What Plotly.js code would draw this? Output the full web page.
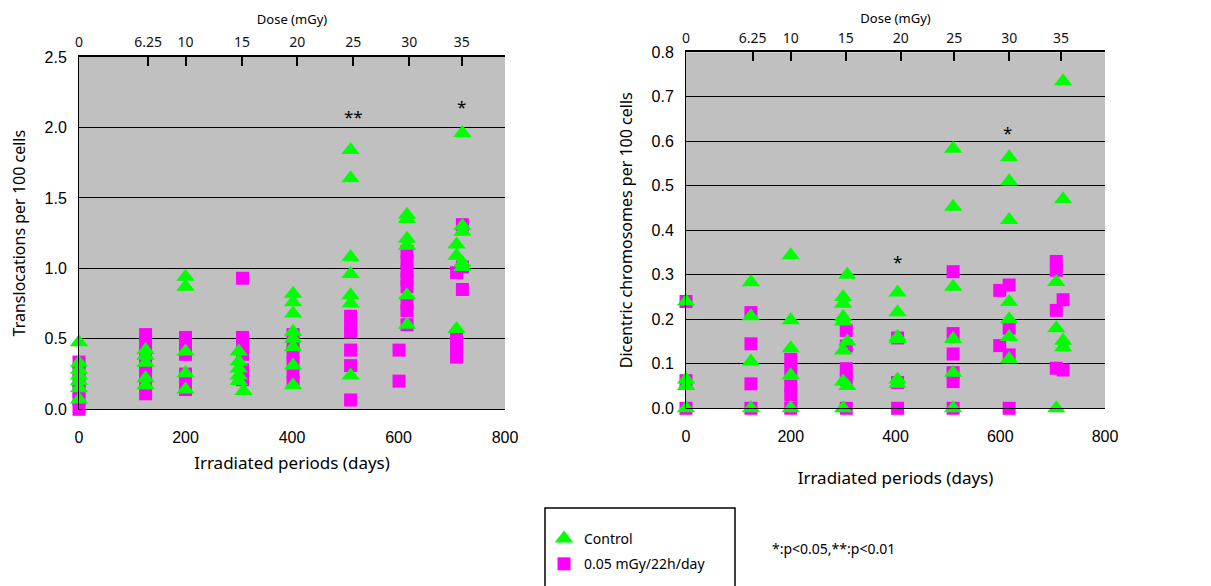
<!DOCTYPE html>
<html>
<head>
<meta charset="utf-8">
<script src="https://cdn.plot.ly/plotly-3.0.1.min.js"></script>
<style>html,body{margin:0;padding:0;background:#fff;}#chart{width:1211px;height:586px;}</style>
</head>
<body>
<div id="chart"></div>
<script>
// ---- Left panel: translocations per 100 cells ----
var transCtrlDays = [0,0,0,0,0,0,0, 125,125,125,125,125, 200,200,200,200,200, 300,300,300,300,300,309,
  402,402,402,402,402,402,402,402, 510,510,510,510,510,510,510, 616,616,616,616,616,616,
  709,709,709, 720,720,720,720,720];
var transCtrlVals = [0.475,0.33,0.28,0.24,0.2,0.15,0.07, 0.42,0.38,0.33,0.22,0.17, 0.94,0.87,0.41,0.255,0.14, 0.41,0.34,0.29,0.24,0.2,0.13,
  0.82,0.76,0.68,0.55,0.5,0.44,0.31,0.17, 1.84,1.64,1.08,0.96,0.81,0.75,0.24, 1.38,1.35,1.21,1.16,0.81,0.6,
  1.17,1.09,0.57, 1.96,1.3,1.26,1.04,1.01];
var transIrrDays = [0,0,0,0,0,0, 125,125,125,125,125,125,125, 200,200,200,200,200,200,
  307,307,307,307,307,307, 402,402,402,402,402,402, 510,510,510,510,510,510,
  601,601, 616,616,616,616,616,616,616,616, 709,709,709,709, 720,720,720];
var transIrrVals = [0.335,0.27,0.2,0.13,0.07,0.0, 0.53,0.47,0.4,0.33,0.25,0.18,0.11, 0.51,0.45,0.39,0.25,0.19,0.14,
  0.93,0.51,0.45,0.39,0.28,0.21, 0.53,0.47,0.4,0.33,0.26,0.19, 0.66,0.6,0.55,0.42,0.31,0.066,
  0.42,0.2, 1.12,1.05,0.98,0.92,0.87,0.75,0.7,0.6, 0.97,0.5,0.43,0.37, 1.31,1.01,0.85];

// ---- Right panel: dicentric chromosomes per 100 cells ----
var dicCtrlDays = [0,0,0,0, 124,124,124,124, 200,200,200,200,200,
  300,300,300,300,300,300,300, 308,308,308, 404,404,404,404,404,404,
  510,510,510,510,510,510, 617,617,617,617,617,617,617, 707,707,707, 720,720,720,720];
var dicCtrlVals = [0.24,0.065,0.05,0.0, 0.283,0.207,0.105,0.0, 0.344,0.198,0.135,0.074,0.0,
  0.25,0.235,0.205,0.195,0.13,0.06,0.0, 0.30,0.15,0.05, 0.26,0.216,0.16,0.155,0.065,0.055,
  0.583,0.453,0.273,0.156,0.08,0.0, 0.564,0.51,0.423,0.239,0.2,0.16,0.111, 0.284,0.18,0.0, 0.735,0.47,0.152,0.137];
var dicIrrDays = [0,0,0, 124,124,124,124, 200,200,200,200,200,
  306,306,306,306,306, 404,404,404, 510,510,510,510,510,510,
  599,599, 617,617,617,617, 707,707,707,707, 720,720];
var dicIrrVals = [0.24,0.062,0.0, 0.215,0.145,0.055,0.0, 0.11,0.085,0.05,0.03,0.0,
  0.175,0.14,0.089,0.065,0.0, 0.158,0.058,0.0, 0.307,0.168,0.122,0.08,0.06,0.0,
  0.265,0.141, 0.277,0.18,0.12,0.0, 0.33,0.31,0.22,0.09, 0.244,0.086];

// ---- Top dose axes (tick positions in days, labels in mGy) ----
var doseLabels = ["0","6.25","10","15","20","25","30","35"];
var doseDaysLeft = [0,130,200,306,410,515,620,719];
var doseDaysRight = [0,127,200,305,410,512,617,716];

// ---- Significance marks ----
var sigLeftDays = [516,719];
var sigLeftVals = [2.075,2.15];
var sigLeftText = ["**","*"];
var sigRightDays = [404,613];
var sigRightVals = [0.33,0.62];
var sigRightText = ["*","*"];

var seriesNames = ["Control","0.05 mGy/22h/day"];
var GREEN = "#00ff00", MAGENTA = "#ff00ff";

var triMarker = {symbol:"triangle-up", size:16, color:GREEN, line:{width:0}};
var sqMarker = {symbol:"square", size:13, color:MAGENTA, line:{width:0}};

var traces = [
  {x:transIrrDays, y:transIrrVals, xaxis:"x", yaxis:"y", type:"scatter", mode:"markers", cliponaxis:false, name:seriesNames[1], legendgroup:"irr", legendrank:2, marker:sqMarker},
  {x:transCtrlDays, y:transCtrlVals, xaxis:"x", yaxis:"y", type:"scatter", mode:"markers", cliponaxis:false, name:seriesNames[0], legendgroup:"ctrl", legendrank:1, marker:triMarker},
  {x:dicIrrDays, y:dicIrrVals, xaxis:"x2", yaxis:"y2", type:"scatter", mode:"markers", cliponaxis:false, name:seriesNames[1], legendgroup:"irr", showlegend:false, marker:sqMarker},
  {x:dicCtrlDays, y:dicCtrlVals, xaxis:"x2", yaxis:"y2", type:"scatter", mode:"markers", cliponaxis:false, name:seriesNames[0], legendgroup:"ctrl", showlegend:false, marker:triMarker},
  // invisible traces carrying the top dose axes
  {x:[0], y:[null], xaxis:"x3", yaxis:"y", type:"scatter", mode:"markers", showlegend:false, hoverinfo:"skip"},
  {x:[0], y:[null], xaxis:"x4", yaxis:"y2", type:"scatter", mode:"markers", showlegend:false, hoverinfo:"skip"}
];

var tickFontB = {family:"Liberation Sans, Arial, sans-serif", size:16, color:"#000"};
var titleFont = {family:"Noto Sans, Open Sans, sans-serif", size:16, color:"#000"};
var topFont = {family:"Noto Sans, Open Sans, sans-serif", size:14, color:"#111"};

function bottomAxis(domain, anchor) {
  return {domain:domain, anchor:anchor, range:[0,800], tickvals:[0,200,400,600,800],
    showgrid:false, zeroline:false, showline:true, linecolor:"#000", linewidth:1,
    ticks:"", tickfont:tickFontB, ticklabelstandoff:13,
    title:{text:"Irradiated periods (days)", font:{family:titleFont.family, size:17, color:"#000"}, standoff:12}};
}
function topAxis(overlay, anchor, pos) {
  return {overlaying:overlay, anchor:anchor, side:"top", range:[0,800], tickmode:"array",
    tickvals:pos, ticktext:doseLabels, showgrid:false, zeroline:false,
    showline:true, linecolor:"#000", linewidth:2, ticks:"inside", ticklen:9, tickwidth:2, tickcolor:"#000",
    tickfont:topFont, ticklabelstandoff:2,
    title:{text:"Dose (mGy)", font:{family:titleFont.family, size:13, color:"#000"}, standoff:5}};
}
function leftAxis(domain, anchor, range, dtick, title) {
  return {domain:domain, anchor:anchor, range:range, dtick:dtick, tick0:0, tickformat:".1f",
    showgrid:true, gridcolor:"#000", gridwidth:1, zeroline:false,
    showline:true, linecolor:"#000", linewidth:1, ticks:"", tickfont:tickFontB, ticklabelstandoff:8,
    title:{text:title, font:titleFont, standoff:14}};
}

var annotations = [];
sigLeftText.forEach(function(t,i){
  annotations.push({x:sigLeftDays[i], y:sigLeftVals[i], xref:"x", yref:"y", text:t, showarrow:false,
    font:{family:"Noto Sans, sans-serif", size:17, color:"#000"}});
});
sigRightText.forEach(function(t,i){
  annotations.push({x:sigRightDays[i], y:sigRightVals[i], xref:"x2", yref:"y2", text:t, showarrow:false,
    font:{family:"Noto Sans, sans-serif", size:17, color:"#000"}});
});
annotations.push({x:770/1211, y:1-548/586, xref:"paper", yref:"paper", xanchor:"left", yanchor:"middle",
  text:"*:p<0.05,**:p<0.01", showarrow:false, font:{family:"Noto Sans, sans-serif", size:14, color:"#000"}});

var layout = {
  width:1211, height:586,
  margin:{l:0, r:0, t:0, b:0},
  paper_bgcolor:"#fff", plot_bgcolor:"#c0c0c0",
  xaxis: bottomAxis([79/1211, 505/1211], "y"),
  yaxis: leftAxis([1-409.3/586, 1-57/586], "x", [0,2.5], 0.5, "Translocations per 100 cells"),
  xaxis2: bottomAxis([686/1211, 1105/1211], "y2"),
  yaxis2: leftAxis([1-408.3/586, 1-52.3/586], "x2", [0,0.8], 0.1, "Dicentric chromosomes per 100 cells"),
  xaxis3: topAxis("x", "y", doseDaysLeft),
  xaxis4: topAxis("x2", "y2", doseDaysRight),
  showlegend:true,
  legend:{x:544/1211, y:1-523/586, xanchor:"left", yanchor:"top", bgcolor:"rgba(0,0,0,0)",
    borderwidth:0, font:{family:"Noto Sans, sans-serif", size:14, color:"#000"}, tracegroupgap:4, itemsizing:"trace"},
  shapes:[{type:"rect", xref:"paper", yref:"paper", x0:545/1211, x1:735/1211, y0:-0.05, y1:1-508/586,
    line:{color:"#000", width:1.5}, fillcolor:"rgba(0,0,0,0)"}],
  annotations:annotations
};
layout.xaxis.title.standoff = 12;
layout.xaxis2.title.standoff = 28;
layout.xaxis4.title.standoff = 1;

Plotly.newPlot("chart", traces, layout, {staticPlot:true, displayModeBar:false});
</script>
</body>
</html>
